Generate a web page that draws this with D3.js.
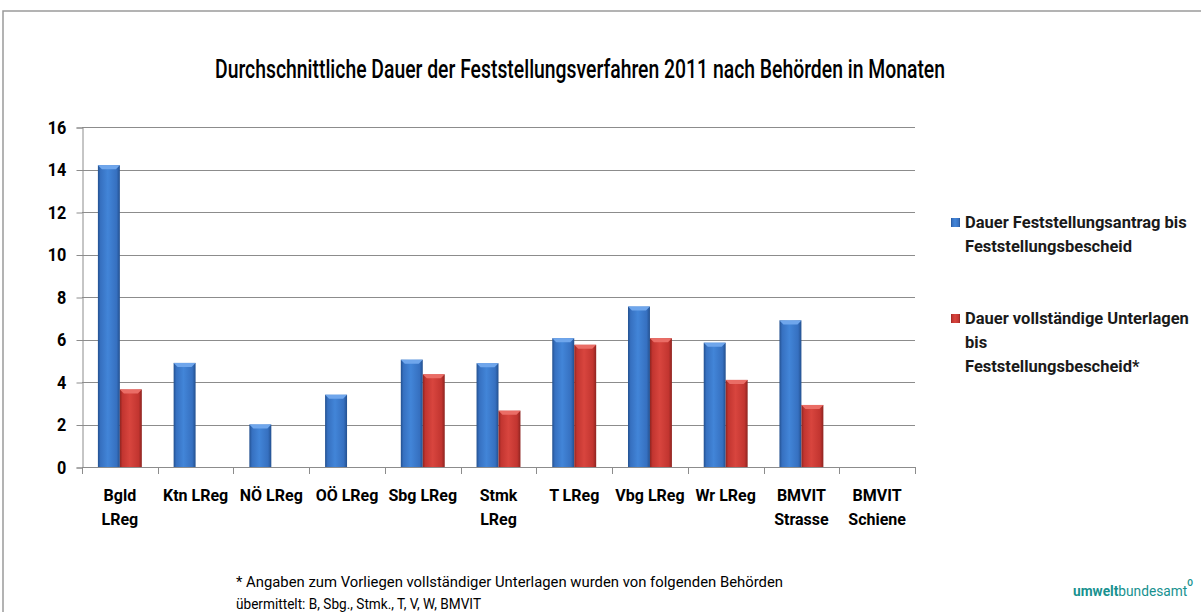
<!DOCTYPE html>
<html lang="de">
  <head>
    <meta charset="utf-8">
    <title>Dauer der Feststellungsverfahren 2011</title>
    <script type="text/javascript" src="https://cdn.jsdelivr.net/npm/d3@7"></script>
    <style>
      body { margin: 0; background: #fff; }
      svg text { font-family: "Roboto", "Liberation Sans", sans-serif; }
    </style>
  </head>
  <body>
    <script type="text/javascript">
    // data
    var categories = [["Bgld", "LReg"], ["Ktn LReg"], ["NÖ LReg"], ["OÖ LReg"], ["Sbg LReg"],
                      ["Stmk", "LReg"], ["T LReg"], ["Vbg LReg"], ["Wr LReg"],
                      ["BMVIT", "Strasse"], ["BMVIT", "Schiene"]];
    var antrag = [14.2, 4.9, 2.0, 3.4, 5.05, 4.88, 6.06, 7.55, 5.85, 6.9, null];
    var unterlagen = [3.65, null, null, null, 4.36, 2.65, 5.75, 6.06, 4.1, 2.92, null];
    var yTicks = [0, 2, 4, 6, 8, 10, 12, 14, 16];
    var seriesNames = [["Dauer Feststellungsantrag bis", "Feststellungsbescheid"],
                       ["Dauer vollständige Unterlagen", "bis", "Feststellungsbescheid*"]];

    var w = 1201;
    var h = 612;

    // plot area
    var plotLeft = 82, plotRight = 915, plotTop = 127, plotBottom = 467;

    var svg = d3.select("body")
                .append("svg")
                .attr("width", w)
                .attr("height", h);

    // gradients for the bevelled bars
    var defs = svg.append("defs");
    var makeGrad = function(id, dark, mid, light) {
      var g = defs.append("linearGradient").attr("id", id)
                  .attr("x1", "0%").attr("x2", "100%").attr("y1", "0%").attr("y2", "0%");
      g.append("stop").attr("offset", "0%").attr("stop-color", dark);
      g.append("stop").attr("offset", "12%").attr("stop-color", mid);
      g.append("stop").attr("offset", "45%").attr("stop-color", light);
      g.append("stop").attr("offset", "85%").attr("stop-color", mid);
      g.append("stop").attr("offset", "100%").attr("stop-color", dark);
    };
    makeGrad("gBlue", "#23508f", "#3670c0", "#4285d8");
    makeGrad("gRed", "#8e2420", "#c23530", "#d8453e");

    // frame
    svg.append("path")
       .attr("d", "M3," + h + " L3,11 L" + w + ",11")
       .attr("fill", "none")
       .attr("stroke", "#9a9a9a")
       .attr("stroke-width", 1.5);

    // title (squeezed to look like the narrow original font)
    svg.append("text")
       .attr("x", 215)
       .attr("y", 78)
       .attr("font-size", 25)
       .attr("font-weight", 500)
       .attr("fill", "#000")
       .attr("textLength", 730)
       .attr("lengthAdjust", "spacingAndGlyphs")
       .text("Durchschnittliche Dauer der Feststellungsverfahren 2011 nach Behörden in Monaten");

    var xScale = d3.scaleBand()
                   .domain(d3.range(categories.length))
                   .range([plotLeft, plotRight])
                   .paddingInner(0)
                   .paddingOuter(0);
    var yScale = d3.scaleLinear()
                   .domain([0, 16])
                   .range([plotBottom, plotTop]);

    var bw = xScale.bandwidth() * 0.29;

    // gridlines
    svg.append("g")
       .selectAll("line")
       .data(yTicks.slice(1))
       .enter()
       .append("line")
       .attr("x1", plotLeft)
       .attr("x2", plotRight)
       .attr("y1", function(d) { return Math.round(yScale(d)) + 0.5; })
       .attr("y2", function(d) { return Math.round(yScale(d)) + 0.5; })
       .attr("stroke", "#8c8c8c")
       .attr("stroke-width", 1);

    // y axis
    var yAxis = d3.axisLeft(yScale).tickValues(yTicks).tickSize(6).tickPadding(9);
    var gy = svg.append("g")
                .attr("transform", "translate(" + (plotLeft + 0.5) + ",0.5)")
                .call(yAxis);
    gy.selectAll("line, path").attr("stroke", "#8c8c8c");
    gy.selectAll("text")
      .attr("font-size", 18)
      .attr("font-weight", "bold")
      .attr("fill", "#000")
      .attr("transform", "scale(0.9,1)")
      .attr("x", -18)
      .style("font-family", "Roboto, sans-serif");

    // x axis line and ticks at band edges
    svg.append("line")
       .attr("x1", plotLeft).attr("x2", plotRight)
       .attr("y1", plotBottom + 0.5).attr("y2", plotBottom + 0.5)
       .attr("stroke", "#8c8c8c");
    svg.append("g")
       .selectAll("line")
       .data(d3.range(categories.length + 1))
       .enter()
       .append("line")
       .attr("x1", function(i) { return Math.round(plotLeft + i * xScale.step()) + 0.5; })
       .attr("x2", function(i) { return Math.round(plotLeft + i * xScale.step()) + 0.5; })
       .attr("y1", plotBottom)
       .attr("y2", plotBottom + 7)
       .attr("stroke", "#8c8c8c");

    // bars
    var drawBars = function(values, offset, grad, cap) {
      var g = svg.append("g");
      var data = values.map(function(v, i) { return { i: i, v: v }; })
                       .filter(function(d) { return d.v !== null; });
      g.selectAll("rect")
       .data(data)
       .enter()
       .append("rect")
       .attr("x", function(d) { return xScale(d.i) + xScale.bandwidth() / 2 + offset; })
       .attr("y", function(d) { return yScale(d.v); })
       .attr("width", bw)
       .attr("height", function(d) { return plotBottom - yScale(d.v); })
       .attr("fill", "url(#" + grad + ")");
      // bevelled top
      g.selectAll("path")
       .data(data)
       .enter()
       .append("path")
       .attr("d", function(d) {
         var x0 = xScale(d.i) + xScale.bandwidth() / 2 + offset;
         var y0 = yScale(d.v);
         return "M" + x0 + "," + y0 + " L" + (x0 + bw) + "," + y0 +
                " L" + (x0 + bw - 4) + "," + (y0 + 4) + " L" + (x0 + 4) + "," + (y0 + 4) + "Z";
       })
       .attr("fill", cap);
    };
    drawBars(antrag, -bw, "gBlue", "#6fa6ec");
    drawBars(unterlagen, 0, "gRed", "#ea6d66");

    // category labels
    var xl = svg.append("g");
    categories.forEach(function(lines, i) {
      var t = xl.append("text")
                .attr("x", xScale(i) + xScale.bandwidth() / 2)
                .attr("y", 501)
                .attr("text-anchor", "middle")
                .attr("font-size", 16)
                .attr("font-weight", "bold")
                .attr("fill", "#000");
      lines.forEach(function(s, k) {
        t.append("tspan")
         .attr("x", xScale(i) + xScale.bandwidth() / 2)
         .attr("dy", k === 0 ? 0 : 24)
         .text(s);
      });
    });

    // legend
    var legend = svg.append("g");
    var legendY = [228, 324];
    var legendGrad = ["gBlue", "gRed"];
    seriesNames.forEach(function(lines, i) {
      legend.append("rect")
            .attr("x", 951)
            .attr("y", legendY[i] - 10)
            .attr("width", 9)
            .attr("height", 9)
            .attr("fill", "url(#" + legendGrad[i] + ")");
      var t = legend.append("text")
                    .attr("x", 965)
                    .attr("y", legendY[i])
                    .attr("font-size", 16.5)
                    .attr("font-weight", "bold")
                    .attr("fill", "#1a1a1a");
      lines.forEach(function(s, k) {
        t.append("tspan").attr("x", 965).attr("dy", k === 0 ? 0 : 24).text(s);
      });
    });

    // footnote
    var footLines = ["* Angaben zum Vorliegen vollständiger Unterlagen wurden von folgenden Behörden",
                     "übermittelt: B, Sbg., Stmk., T, V, W, BMVIT"];
    var footLen = [547, 245];
    svg.append("g")
       .selectAll("text")
       .data(footLines)
       .enter()
       .append("text")
       .attr("x", 236)
       .attr("y", function(d, i) { return 587 + i * 22; })
       .attr("font-size", 15)
       .attr("fill", "#000")
       .attr("textLength", function(d, i) { return footLen[i]; })
       .attr("lengthAdjust", "spacingAndGlyphs")
       .text(function(d) { return d; });

    // logo, superscript ring as part of the same text
    var logo = svg.append("text")
                  .attr("x", 1073)
                  .attr("y", 596)
                  .attr("font-size", 15)
                  .attr("fill", "#17918f")
                  .attr("textLength", 120)
                  .attr("lengthAdjust", "spacingAndGlyphs");
    logo.append("tspan").attr("font-weight", "bold").text("umwelt");
    logo.append("tspan").text("bundesamt");
    logo.append("tspan").attr("font-size", 9).attr("font-weight", "bold").attr("dy", -10).text("O");
    </script>
  </body>
</html>
